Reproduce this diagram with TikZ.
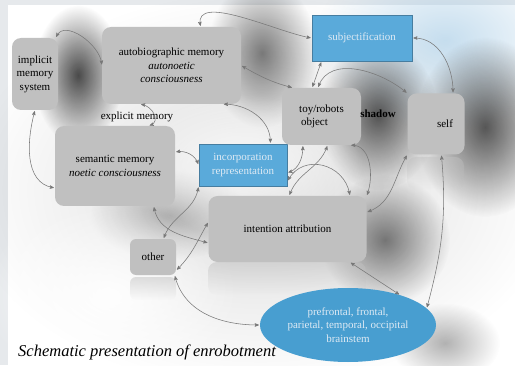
\documentclass[tikz,border=0pt]{standalone}
\usepackage{fontspec}
\setmainfont{Liberation Serif}
\usetikzlibrary{arrows,shapes.geometric,fadings}

\definecolor{boxgray}{RGB}{192,192,192}
\definecolor{boxblue}{RGB}{90,170,218}
\definecolor{blueline}{RGB}{70,125,160}
\definecolor{ovalblue}{RGB}{72,158,208}
\definecolor{bluetext}{RGB}{222,234,244}
\definecolor{linkgray}{RGB}{120,120,120}
\definecolor{stripgray}{RGB}{230,233,236}
\definecolor{bluehaze}{RGB}{160,200,228}

\tikzfading[name=fuzzy, inner color=transparent!0, outer color=transparent!100]
\tikzfading[name=fadedown, top color=transparent!0, bottom color=transparent!100]

\begin{document}
\begin{tikzpicture}[
                            <->,
                            >=stealth',
                            shorten >=1pt,
                            shorten <=1pt,
                            x=1pt, y=1pt,
                            font=\fontsize{11}{13.5}\selectfont
                        ]
                        \tikzstyle{every edge}=[draw=linkgray, line width=0.55pt]
                        \tikzstyle{box}=[fill=boxgray, rounded corners=9pt, inner sep=2pt, align=center]
                        \tikzstyle{bluebox}=[fill=boxblue, draw=blueline, line width=0.8pt, text=bluetext, align=center]
                        \tikzstyle{blob}=[path fading=fuzzy]

                        % page and the grey strips
                        \useasboundingbox (0,0) rectangle (515,365);
                        \fill[white] (0,0) rectangle (515,365);
                        \fill[stripgray] (0,360) rectangle (515,365);
                        \fill[stripgray] (0,0) rectangle (8,365);

                        % soft shadows
                        \fill[black, opacity=0.15, blob] (260,175) ellipse (300pt and 200pt);
                        \fill[bluehaze, opacity=0.6, blob] (445,325) ellipse (130pt and 90pt);
                        \fill[black, opacity=0.7, blob] (78,290) ellipse (45pt and 70pt);
                        \fill[black, opacity=0.5, blob] (262,312) ellipse (55pt and 75pt);
                        \fill[black, opacity=0.65, blob] (378,250) ellipse (60pt and 75pt);
                        \fill[black, opacity=0.65, blob] (485,238) ellipse (70pt and 90pt);
                        \fill[black, opacity=0.5, blob] (385,125) ellipse (65pt and 65pt);
                        \fill[black, opacity=0.25, blob] (170,150) ellipse (80pt and 45pt);
                        \fill[black, opacity=0.3, blob] (445,22) ellipse (55pt and 40pt);
                        \fill[white, opacity=0.9, blob] (243,200) ellipse (120pt and 70pt);
                        \fill[white, opacity=0.9, blob] (110,70) ellipse (130pt and 90pt);

                        % reflections
                        \fill[boxgray, opacity=0.5, path fading=fadedown, rounded corners=6pt] (130,65) rectangle (176,88);
                        \fill[boxgray, opacity=0.5, path fading=fadedown, rounded corners=9pt] (208,70) rectangle (366,103);
                        \fill[boxgray, opacity=0.5, path fading=fadedown, rounded corners=9pt] (407,175) rectangle (464,208);

                        \node[box, minimum width=46pt, minimum height=72pt]   (impl)   at (35,291)    {implicit\\memory\\system};
                        \node[box, minimum width=139pt, minimum height=77pt]  (auto)   at (171.5,299.5) {autobiographic memory\\\textit{autonoetic}\\\textit{consciousness}};
                        \node[box, minimum width=120pt, minimum height=80pt]  (sem)    at (115,199)   {semantic memory\\\textit{noetic consciousness}};
                        \node[bluebox, minimum width=88pt, minimum height=42pt] (inc)  at (243,200)   {incorporation\\representation};
                        \node[bluebox, minimum width=100pt, minimum height=46pt] (subj) at (362,327)  {subjectification};
                        \node[box, minimum width=79pt, minimum height=57pt, align=left] (toy) at (321.5,248.5) {toy/robots\\\,object};
                        \node[box, minimum width=57pt, minimum height=61pt]   (self)   at (436,241)   {\hspace*{18pt}self};
                        \node[box, minimum width=158pt, minimum height=66pt]  (intent) at (287.5,136) {intention attribution};
                        \node[box, minimum width=46pt, minimum height=36pt, rounded corners=6pt] (other) at (153,108) {other};
                        \node[ellipse, fill=ovalblue, inner sep=0pt, minimum width=176pt, minimum height=74pt, text=bluetext, align=center]
                                                                              (brain)  at (348,40)    {prefrontal, frontal,\\parietal, temporal, occipital\\brainstem};

                        \node (expl) at (137,248) {explicit memory};
                        \node[font=\fontsize{11}{13}\selectfont\bfseries] (shad) at (378,251) {shadow};
                        \node[anchor=west, inner sep=0pt, font=\fontsize{16.5}{18}\selectfont\itshape] (cap) at (18,13) {Schematic presentation of enrobotment};

                        \path
                        (impl.60)         edge [out=65, in=95]                 (auto.west)
                        (impl.south)      edge [out=255, in=170]               (sem.200)
                        (auto.231)        edge [out=-10, in=20, looseness=1.4] (sem.50)
                        (auto.-37)        edge [out=0, in=90]                  (inc.38)
                        (sem.13)          edge [out=10, in=110]                (inc.west)
                        (auto.53)         edge [out=100, in=170, looseness=0.8] (subj.west)
                        (auto.east)       edge [out=-30, in=165]               (toy.135)
                        (subj.210)        edge                                 (toy.108)
                        (toy.97)          edge [out=70, in=140]                (self.north west)
                        (subj.east)       edge [out=0, in=90]                  (self.61)
                        (toy.-45)         edge [out=0, in=70]                  (intent.north east)
                        (inc.-10)         edge [out=20, in=-90]                (toy.237)
                        (intent.87)       edge [out=70, in=-110]               (toy.-78)
                        (inc.-20)         edge [out=60, in=100, looseness=1.3] (intent.28)
                        (intent.-28)      edge                                 (brain.30)
                        (self.-80)        edge [out=-85, in=75]                (brain.12)
                        (self.south west) edge [out=240, in=20]                (intent.12)
                        (sem.-46)         edge [out=-80, in=165]               (intent.190)
                        (other.60)        edge [out=70, in=-100]               (inc.south west)
                        (other.-30)       edge [out=45, in=-120]               (intent.175)
                        (other.-40)       edge [out=-75, in=180]               (brain.west)
                        ;
                    \end{tikzpicture}
\end{document}
